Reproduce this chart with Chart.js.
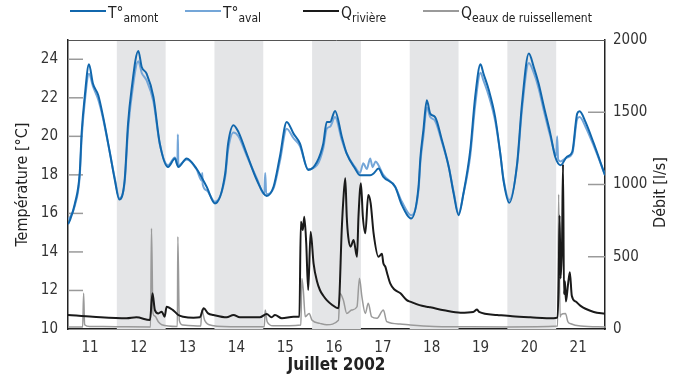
<!DOCTYPE html>
<html>
<head>
<meta charset="utf-8">
<script src="https://cdn.jsdelivr.net/npm/chart.js@4.4.1/dist/chart.umd.min.js"></script>
<style>
  body { margin: 0; background: #fff; }
  #wrap { position: relative; width: 682px; height: 376px; font-family: 'Liberation Sans Narrow', 'DejaVu Sans Condensed', 'Liberation Sans', sans-serif; }
  .leg { position: absolute; top: 4px; font-size: 15.5px; color: #222; white-space: nowrap; }
  .leg i { display: inline-block; width: 36px; height: 0; border-top: 2px solid; vertical-align: middle; margin-right: 2px; position: relative; top: -3px; }
  .leg sub { font-size: 12px; vertical-align: -4px; }
</style>
</head>
<body>
<div id="wrap">
  <canvas id="chart" width="682" height="376"></canvas>
  <div class="leg" style="left:70px"><i style="border-color:#1167ad"></i>T°<sub>amont</sub></div>
  <div class="leg" style="left:185px"><i style="border-color:#74a6d8"></i>T°<sub>aval</sub></div>
  <div class="leg" style="left:303px"><i style="border-color:#1a1a1a"></i>Q<sub>rivière</sub></div>
  <div class="leg" style="left:423px"><i style="border-color:#9a9a9a"></i>Q<sub>eaux de ruissellement</sub></div>
</div>
<script>
// jours de juillet 2002 (axe x en jours)
const dayLabels = [11, 12, 13, 14, 15, 16, 17, 18, 19, 20, 21];
const nightBands = [12, 14, 16, 18, 20];
const tempTicks = [10, 12, 14, 16, 18, 20, 22, 24];
const debitTicks = [0, 500, 1000, 1500, 2000];

// T° amont [°C]
const tAmont = [
  [11.0,15.44],[11.04,15.65],[11.14,16.5],[11.24,18.1],[11.28,20.2],[11.34,22.0],[11.43,23.74],[11.51,22.74],
  [11.62,22.13],[11.72,21.0],[11.86,19.12],[11.96,17.72],[12.05,16.72],[12.16,17.72],[12.23,20.66],[12.30,22.4],
  [12.44,24.43],[12.51,23.6],[12.61,23.26],[12.75,22.04],[12.88,19.63],[13.05,18.41],[13.19,18.85],[13.26,18.41],
  [13.43,18.85],[13.63,18.33],[13.84,17.38],[14.01,16.52],[14.22,18.07],[14.28,19.63],[14.39,20.58],[14.49,20.23],
  [14.66,19.1],[14.87,17.72],[15.07,16.9],[15.21,17.38],[15.34,18.94],[15.48,20.75],[15.62,20.14],[15.75,19.63],
  [15.92,18.25],[16.10,18.67],[16.23,19.63],[16.30,20.75],[16.37,20.75],[16.47,21.32],[16.61,19.97],[16.71,19.1],
  [16.88,18.33],[16.98,17.98],[17.19,17.98],[17.26,18.07],[17.36,18.33],[17.46,17.9],[17.70,17.38],[17.84,16.43],
  [18.03,15.74],[18.18,17.38],[18.22,18.94],[18.28,20.32],[18.35,21.87],[18.42,21.18],[18.52,21.0],[18.66,19.8],
  [18.80,18.41],[18.90,17.03],[19.00,15.91],[19.10,17.03],[19.24,19.28],[19.34,22.04],[19.45,23.74],[19.51,23.26],
  [19.62,22.4],[19.75,21.0],[19.86,19.0],[19.92,17.72],[20.04,16.55],[20.20,18.59],[20.30,21.7],[20.44,24.3],
  [20.54,23.6],[20.64,22.74],[20.75,21.52],[20.88,20.14],[20.98,18.94],[21.09,18.5],[21.22,18.94],[21.33,19.2],
  [21.43,21.18],[21.48,21.3],[21.60,20.75],[21.77,19.63],[22.0,17.98]
];

// T° aval [°C]
const tAval = [
  [11.0,15.7],[11.04,15.8],[11.14,16.4],[11.24,17.9],[11.28,19.9],[11.34,21.7],[11.43,23.25],[11.51,22.6],
  [11.62,21.9],[11.72,20.9],[11.86,19.1],[11.96,17.8],[12.05,16.8],[12.16,17.6],[12.23,20.3],[12.30,22.0],
  [12.44,23.9],[12.51,23.3],[12.61,22.9],[12.75,21.8],[12.88,19.6],[13.05,18.5],[13.19,18.9],[13.24,18.5],
  [13.25,20.1],[13.26,18.5],[13.43,18.8],[13.63,18.3],[13.74,17.7],[13.75,18.1],[13.76,17.5],[13.84,17.2],
  [14.01,16.6],[14.22,17.9],[14.28,19.3],[14.39,20.2],[14.49,20.0],[14.66,19.0],[14.87,17.8],[15.02,17.0],
  [15.04,18.1],[15.06,17.0],[15.21,17.3],[15.34,18.7],[15.48,20.4],[15.62,19.9],[15.75,19.5],[15.92,18.3],
  [16.10,18.5],[16.23,19.4],[16.30,20.4],[16.37,20.5],[16.47,21.0],[16.61,19.8],[16.71,19.1],[16.88,18.4],
  [16.98,18.1],[17.05,18.6],[17.12,18.3],[17.19,18.85],[17.24,18.4],[17.30,18.7],[17.36,18.5],[17.46,18.0],
  [17.70,17.4],[17.84,16.6],[18.03,15.9],[18.18,17.2],[18.22,18.7],[18.28,20.0],[18.35,21.5],[18.42,21.0],
  [18.52,20.8],[18.66,19.7],[18.80,18.4],[18.90,17.1],[19.00,16.0],[19.10,17.0],[19.24,19.0],[19.34,21.6],
  [19.45,23.3],[19.51,22.9],[19.62,22.1],[19.75,20.8],[19.86,19.0],[19.92,17.8],[20.04,16.7],[20.20,18.5],
  [20.30,21.4],[20.44,23.8],[20.54,23.3],[20.64,22.5],[20.75,21.3],[20.88,20.0],[21.00,19.0],[21.02,20.0],
  [21.04,18.8],[21.09,18.7],[21.22,18.9],[21.33,19.1],[21.43,20.9],[21.48,21.0],[21.60,20.5],[21.77,19.5],
  [22.0,18.0]
];

// Q rivière [l/s]
const qRiviere = [
  [11.0,97],[11.51,85],[12.20,74],[12.40,81],[12.68,62],[12.73,247],[12.78,131],[12.85,108],[12.92,120],
  [12.98,85],[13.02,154],[13.15,131],[13.26,97],[13.36,85],[13.57,78],[13.70,81],[13.78,143],[13.87,108],
  [13.98,97],[14.25,81],[14.39,97],[14.52,81],[14.93,81],[15.07,104],[15.17,81],[15.24,97],[15.38,74],
  [15.62,85],[15.74,85],[15.77,743],[15.81,685],[15.84,777],[15.88,593],[15.92,270],[15.97,673],[16.03,455],
  [16.10,330],[16.16,270],[16.23,230],[16.30,200],[16.40,170],[16.54,143],[16.61,708],[16.64,893],[16.68,1043],
  [16.71,777],[16.74,639],[16.79,570],[16.85,616],[16.92,500],[16.95,777],[17.00,1008],[17.04,777],[17.09,662],
  [17.15,927],[17.20,870],[17.26,662],[17.36,500],[17.43,520],[17.46,455],[17.50,431],[17.55,370],[17.60,316],
  [17.68,275],[17.81,247],[17.94,200],[18.01,189],[18.20,165],[18.35,154],[18.42,150],[18.70,130],[19.04,113],
  [19.30,118],[19.38,135],[19.42,118],[19.79,97],[20.10,88],[20.47,81],[20.95,74],[21.02,78],[21.05,300],
  [21.07,785],[21.09,350],[21.12,600],[21.14,1140],[21.16,240],[21.18,330],[21.20,190],[21.24,300],[21.28,392],
  [21.32,230],[21.40,190],[21.50,160],[21.60,140],[21.77,118],[22.0,105]
];

// Q eaux de ruissellement [l/s]
const qRuissellement = [
  [11.0,14],[11.30,14],[11.32,247],[11.34,30],[11.45,18],[12.00,16],[12.69,14],[12.71,697],[12.74,110],
  [12.78,90],[12.85,50],[12.92,30],[13.24,18],[13.25,639],[13.28,60],[13.35,28],[13.72,20],[13.74,131],
  [13.80,60],[13.95,25],[14.50,15],[15.02,15],[15.04,131],[15.08,50],[15.20,22],[15.77,28],[15.79,350],
  [15.82,270],[15.86,85],[15.94,108],[16.00,60],[16.16,39],[16.30,30],[16.54,60],[16.57,247],[16.64,200],
  [16.71,108],[16.81,131],[16.92,154],[16.97,351],[17.02,224],[17.09,108],[17.15,178],[17.22,85],[17.33,74],
  [17.46,131],[17.53,51],[17.80,35],[18.01,28],[18.50,18],[19.04,16],[20.00,14],[21.03,20],[21.05,932],
  [21.08,83],[21.10,100],[21.19,107],[21.24,50],[21.30,36],[21.50,20],[22.0,14]
];

const FONT = "'Liberation Sans Narrow', 'DejaVu Sans Condensed', 'Liberation Sans', sans-serif";
const toPts = arr => arr.map(p => ({ x: p[0], y: p[1] }));

// bandes grises + graduations intérieures + cadre + titre droit
const decor = {
  id: 'decor',
  beforeDatasetsDraw(chart) {
    const { ctx, chartArea: a, scales } = chart;
    ctx.save();
    ctx.fillStyle = '#e4e5e7';
    nightBands.forEach(d => {
      const x0 = scales.x.getPixelForValue(d);
      const x1 = scales.x.getPixelForValue(d + 1);
      ctx.fillRect(x0, a.top, x1 - x0, a.bottom - a.top);
    });
    ctx.strokeStyle = '#9a9a9a';
    ctx.lineWidth = 1.5;
    tempTicks.forEach(v => {
      if (v === 10) return;
      const y = scales.y.getPixelForValue(v);
      ctx.beginPath(); ctx.moveTo(a.left, y); ctx.lineTo(a.left + 15, y); ctx.stroke();
    });
    debitTicks.forEach(v => {
      if (v === 0 || v === 2000) return;
      const y = scales.y2.getPixelForValue(v);
      ctx.beginPath(); ctx.moveTo(a.right - 17, y); ctx.lineTo(a.right, y); ctx.stroke();
    });
    ctx.restore();
  },
  afterDraw(chart) {
    const { ctx, chartArea: a } = chart;
    ctx.save();
    ctx.strokeStyle = '#555';
    ctx.lineWidth = 1;
    ctx.beginPath(); ctx.moveTo(a.left, a.top + 0.5); ctx.lineTo(a.right, a.top + 0.5); ctx.stroke();
    ctx.translate(661, (a.top + a.bottom) / 2 + 8);
    ctx.rotate(-Math.PI / 2);
    ctx.fillStyle = '#222';
    ctx.font = '16px ' + FONT;
    ctx.textAlign = 'center';
    ctx.textBaseline = 'middle';
    ctx.fillText('Débit [l/s]', 0, 0);
    ctx.restore();
  }
};

new Chart(document.getElementById('chart'), {
  type: 'line',
  data: {
    datasets: [
      { label: 'T°amont', data: toPts(tAmont), borderColor: '#1167ad', borderWidth: 2, yAxisID: 'y' },
      { label: 'T°aval', data: toPts(tAval), borderColor: '#74a6d8', borderWidth: 2, yAxisID: 'y' },
      { label: 'Qrivière', data: toPts(qRiviere), borderColor: '#1a1a1a', borderWidth: 2, yAxisID: 'y2' },
      { label: 'Qeaux de ruissellement', data: toPts(qRuissellement), borderColor: '#9a9a9a', borderWidth: 1.5, yAxisID: 'y2' }
    ]
  },
  options: {
    responsive: false,
    animation: false,
    events: [],
    layout: { padding: { top: 40, left: 0, right: 0, bottom: 0 } },
    elements: { point: { radius: 0 }, line: { cubicInterpolationMode: 'monotone' } },
    plugins: { legend: { display: false }, tooltip: { enabled: false } },
    scales: {
      x: {
        type: 'linear', min: 11, max: 22,
        afterBuildTicks: s => { s.ticks = dayLabels.map(d => ({ value: d + 0.45 })); },
        afterFit: s => { s.height = 47; },
        grid: { display: false, drawTicks: false },
        border: { color: '#222', width: 1.5 },
        ticks: {
          autoSkip: false, maxRotation: 0, minRotation: 0, padding: 10,
          color: '#333', font: { family: FONT, size: 15 },
          callback: (v, i) => dayLabels[i]
        },
        title: { display: true, text: 'Juillet 2002', color: '#222', padding: 0, font: { family: FONT, size: 17, weight: 'bold' } }
      },
      y: {
        position: 'left', min: 10, max: 25,
        afterBuildTicks: s => { s.ticks = tempTicks.map(v => ({ value: v })); },
        afterFit: s => { s.width = 68; },
        grid: { display: false, drawTicks: false },
        border: { color: '#222', width: 1.5 },
        ticks: { padding: 10, color: '#333', font: { family: FONT, size: 15 }, callback: v => String(v) },
        title: { display: true, text: 'Température [°C]', color: '#222', padding: { top: 13, bottom: 0 }, font: { family: FONT, size: 16 } }
      },
      y2: {
        position: 'right', min: 0, max: 2000,
        afterBuildTicks: s => { s.ticks = debitTicks.map(v => ({ value: v })); },
        afterFit: s => { s.width = 77; },
        grid: { display: false, drawTicks: false },
        border: { color: '#222', width: 1.5 },
        ticks: { padding: 8, color: '#333', font: { family: FONT, size: 15 }, callback: v => String(v) }
      }
    }
  },
  plugins: [decor]
});
</script>
</body>
</html>
